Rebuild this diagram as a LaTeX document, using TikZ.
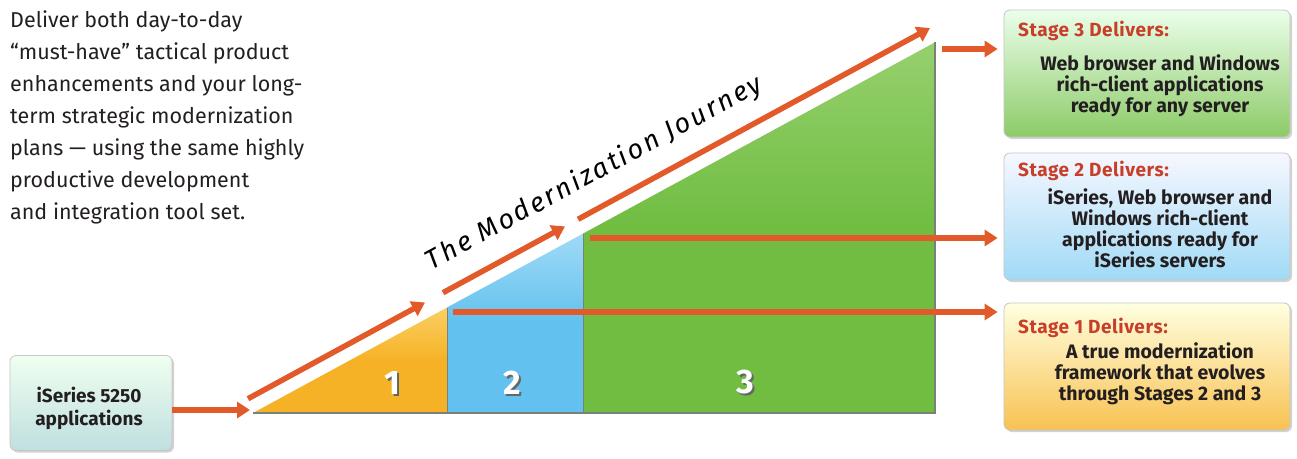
\documentclass[tikz,border=0pt]{standalone}
\usepackage{fontspec}
\setmainfont{Fira Sans}
\usetikzlibrary{arrows.meta,shadows}
\definecolor{arrowc}{RGB}{226,90,42}
\definecolor{titlec}{RGB}{200,62,40}
\definecolor{textc}{RGB}{35,31,32}
\definecolor{yel}{RGB}{246,178,38}
\definecolor{yellt}{RGB}{250,208,100}
\definecolor{blu}{RGB}{98,193,238}
\definecolor{blult}{RGB}{160,218,246}
\definecolor{grn}{RGB}{112,189,66}
\definecolor{grnlt}{RGB}{150,208,110}
\definecolor{edgec}{RGB}{120,130,120}
\tikzset{
  jarrow/.style={draw=arrowc, line width=5.5pt, -{Triangle[length=13pt,width=16pt]}},
  stagebox/.style={rounded corners=6pt, draw=gray!45, line width=0.8pt,
    minimum width=286pt, minimum height=127pt, inner sep=0pt,
    drop shadow={shadow xshift=2pt, shadow yshift=-2pt, opacity=0.35}},
  ttl/.style={text=titlec, font=\bfseries\fontsize{19}{22}\selectfont\addfontfeature{LetterSpace=3}, inner sep=0pt, anchor=base west},
  body/.style={text=textc, font=\bfseries\fontsize{19.5}{21}\selectfont, align=center, inner sep=0pt},
  numtxt/.style={font=\bfseries\fontsize{34}{34}\selectfont, inner sep=0pt},
}
\begin{document}
\begin{tikzpicture}[x=1pt,y=-1pt]
\useasboundingbox (0,0) rectangle (1297,458);
\fill[white] (0,0) rectangle (1297,458);

% intro paragraph
\node[text=textc, font=\fontsize{21.5}{32}\selectfont, align=left, anchor=north west, inner sep=0pt] (intro) at (10,11)
 {Deliver both day-to-day\\ “must-have” tactical product\\ enhancements and your long-\\ term strategic modernization\\ plans — using the same highly\\ productive development\\ and integration tool set.};

% staircase triangle
\coordinate (A) at (253,413);
\coordinate (B1) at (447,413); \coordinate (T1) at (447,307.5);
\coordinate (B2) at (583,413); \coordinate (T2) at (583,233.6);
\coordinate (B3) at (935,413); \coordinate (T3) at (935,42.3);
\shade[top color=yellt, bottom color=yel, middle color=yel] (A) -- (B1) -- (T1) -- cycle;
\shade[top color=blult, bottom color=blu, middle color=blu] (B1) -- (B2) -- (T2) -- (T1) -- cycle;
\shade[top color=grnlt, bottom color=grn, middle color=grn] (B2) -- (B3) -- (T3) -- (T2) -- cycle;
\draw[edgec, line width=1.3pt] (A) -- (B3) -- (T3);
\draw[edgec, line width=1pt] (B1) -- (T1);
\draw[edgec, line width=1pt] (B2) -- (T2);

% numbers
\node[numtxt, text=black!60] (n1s) at (394,385) {1};
\node[numtxt, text=white] (n1) at (392,383) {1};
\node[numtxt, text=black!60] (n2s) at (514,385) {2};
\node[numtxt, text=white] (n2) at (512,383) {2};
\node[numtxt, text=black!60] (n3s) at (747,384) {3};
\node[numtxt, text=white] (n3) at (745,382) {3};

% journey title
\node[font=\itshape\fontsize{27}{27}\selectfont\addfontfeature{LetterSpace=9}, rotate=28.5, anchor=base, inner sep=0pt] (journey) at (598,180) {The Modernization Journey};

% stage boxes
\node[stagebox, top color=green!8!white, bottom color=grn!80!white] (s3) at (1147,73.5) {};
\node[stagebox, top color=blue!3!white, bottom color=blult] (s2) at (1147,216.5) {};
\node[stagebox, top color=yellow!12!white, bottom color=yel!80!white] (s1) at (1147,366.5) {};
\node[rounded corners=6pt, draw=gray!45, line width=0.8pt, minimum width=162pt, minimum height=95pt,
  top color=green!6!white, bottom color=teal!25!white,
  drop shadow={shadow xshift=2pt, shadow yshift=-2pt, opacity=0.35}] (s0) at (91,403) {};

\node[ttl] (t3) at (1018,36) {Stage 3 Delivers:};
\node[body] (b3) at (1160,86) {Web browser and Windows\\ rich-client applications\\ ready for any server};
\node[ttl] (t2) at (1018,176) {Stage 2 Delivers:};
\node[body] (b2) at (1160,228) {iSeries, Web browser and\\ Windows rich-client\\ applications ready for\\ iSeries servers};
\node[ttl] (t1) at (1018,333) {Stage 1 Delivers:};
\node[body] (b1) at (1160,374) {A true modernization\\ framework that evolves\\ through Stages 2 and 3};
\node[body, font=\bfseries\fontsize{19}{23}\selectfont] (b0) at (89,408.5) {iSeries 5250\\ applications};

% arrows along the journey
\coordinate (j0) at (250,410);
\coordinate (d1a) at (248,398.7); \coordinate (d1b) at (425,302.5);
\coordinate (d2a) at (443,292.7); \coordinate (d2b) at (565,226.4);
\coordinate (d3a) at (578,219.3); \coordinate (d3b) at (930,28);
\coordinate (h3) at (942,49);
\coordinate (h2) at (590,238);
\coordinate (h1) at (453,312);
\draw[jarrow] ([yshift=-7pt]s0.east) -- (j0);
\draw[jarrow] (d1a) -- (d1b);
\draw[jarrow] (d2a) -- (d2b);
\draw[jarrow] (d3a) -- (d3b);
\draw[jarrow, shorten >=6pt] (h3) -- ([yshift=24.5pt]s3.west);
\draw[jarrow, shorten >=6pt] (h2) -- ([yshift=-21.5pt]s2.west);
\draw[jarrow, shorten >=6pt] (h1) -- ([yshift=54.5pt]s1.west);
\end{tikzpicture}
\end{document}
